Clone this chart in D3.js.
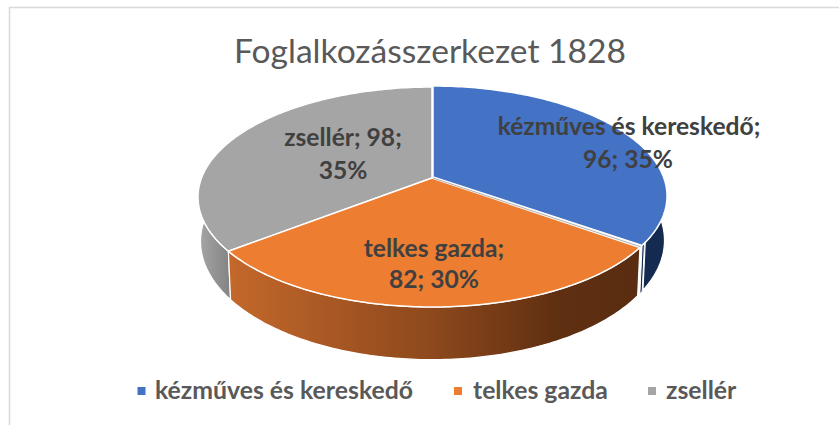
<!DOCTYPE html>
<html><head><meta charset="utf-8">
<script src="https://cdn.jsdelivr.net/npm/d3@7"></script>
<style>html,body{margin:0;padding:0;background:#fff}svg{display:block}text{font-family:Lato,"Noto Sans",sans-serif}</style>
</head><body><div id="c"></div>
<script>
const categories=["kézműves és kereskedő","telkes gazda","zsellér"];
const values=[96,82,98];
const percents=["35%","30%","35%"];
const colors=["#4472c4","#ed7d31","#a5a5a5"];
const sideStops=[[[0,"#17305a"],[1,"#142a50"]],[[0,"#c4682b"],[.5,"#8c481c"],[.8,"#5f2f11"],[1,"#5a2d10"]],[[0,"#a6a6a6"],[1,"#858585"]]];
const title="Foglalkozásszerkezet 1828";

const W=839,H=425;
const svg=d3.select("#c").append("svg").attr("width",W).attr("height",H);
const defs=svg.append("defs");

// frame
svg.append("path").attr("d","M9.5,425V7.5H839").attr("fill","none").attr("stroke","#d9d9d9").attr("stroke-width",1.5);

// perspective disc projection
const k=0.1727;
const top_={cx:432,cy:178,rx:230.5,ry:106.7},bot={cx:432,cy:221,rx:228,ry:114.7};
function proj(d,a){const X=Math.sin(a),Y=-Math.cos(a),w=1-k*Y;return [d.cx+d.rx*X/w,d.cy+d.ry*Y/w];}
const line=d3.line();
const arcs=d3.pie().sort(null).value(v=>v)(values);
function samples(s,e){return d3.range(0,121).map(i=>s+(e-s)*i/120);}
const deg=Math.PI/180;
function sidePath(s,e){
  const pts=samples(s,e);
  return line(pts.map(t=>proj(top_,t)).concat(pts.map(t=>proj(bot,t)).reverse()))+"Z";
}

// sides
[2,1,0].forEach(i=>{
  const a=arcs[i];
  const tp=samples(a.startAngle,a.endAngle).map(t=>proj(top_,t));
  let x0=d3.min(tp,p=>p[0]),x1=d3.max(tp,p=>p[0]);
  if(i==2){x1=proj(top_,a.startAngle)[0];x0=x1-30;}
  const g=defs.append("linearGradient").attr("id","s"+i).attr("gradientUnits","userSpaceOnUse")
    .attr("x1",x0).attr("x2",x1).attr("y1",0).attr("y2",0);
  sideStops[i].forEach(s=>g.append("stop").attr("offset",s[0]).attr("stop-color",s[1]));
  const st=a.startAngle+(i==1?0.6*deg:0);
  if(i==0){
    svg.append("path").attr("transform","translate(1,-1)").attr("d",sidePath(st,a.endAngle-1.6*deg)).attr("fill",`url(#s${i})`).attr("stroke","#fff").attr("stroke-width",1.2);
    svg.append("path").attr("transform","translate(1,-1)").attr("d",sidePath(a.endAngle-1.2*deg,a.endAngle)).attr("fill",`url(#s${i})`).attr("stroke","#fff").attr("stroke-width",1);
  } else {
    svg.append("path").attr("d",sidePath(st,a.endAngle)).attr("fill",`url(#s${i})`).attr("stroke","#fff").attr("stroke-width",1.2);
  }
});
// tops
[2,1,0].forEach(i=>{
  const a=arcs[i];
  const st=a.startAngle+(i==1?0.6*deg:0);
  const pts=samples(st,a.endAngle).map(t=>proj(top_,t));
  const off=i==0?"translate(1,-1)":"";
  svg.append("path").attr("transform",off).attr("d",line([[top_.cx,top_.cy],...pts])+"Z")
    .attr("fill",colors[i]).attr("stroke","#fff").attr("stroke-width",1.5).attr("stroke-linejoin","round");
});
// thin cut-face line between the first two slices
svg.append("path").attr("d",line([[top_.cx+1,top_.cy],proj(top_,arcs[0].endAngle+0.25*deg)]))
  .attr("fill","none").attr("stroke","#9a9a9a").attr("stroke-width",.8);

// data labels
const lbl=[
 [[`${categories[0]};`,629,135],[`${values[0]}; ${percents[0]}`,628,168]],
 [[`${categories[1]};`,434,257],[`${values[1]}; ${percents[1]}`,434,288]],
 [[`${categories[2]}; ${values[2]};`,343,146],[percents[2],343,179]]
];
lbl.flat().forEach(([t,x,y])=>{
  svg.append("text").attr("x",x).attr("y",y).attr("text-anchor","middle").attr("font-size",24.6).attr("font-weight",700).attr("fill","#404040").text(t);
});

// title
svg.append("text").attr("x",430).attr("y",63).attr("text-anchor","middle").attr("font-size",33.6).attr("fill","#595959").text(title);

// legend
const lx=[[137.5,155],[454,473],[648,666]];
categories.forEach((c,i)=>{
  svg.append("rect").attr("x",lx[i][0]).attr("y",387).attr("width",8).attr("height",8).attr("fill",colors[i]);
  svg.append("text").attr("x",lx[i][1]).attr("y",399).attr("font-size",24.8).attr("font-weight",700).attr("fill","#595959").text(c);
});
</script></body></html>
